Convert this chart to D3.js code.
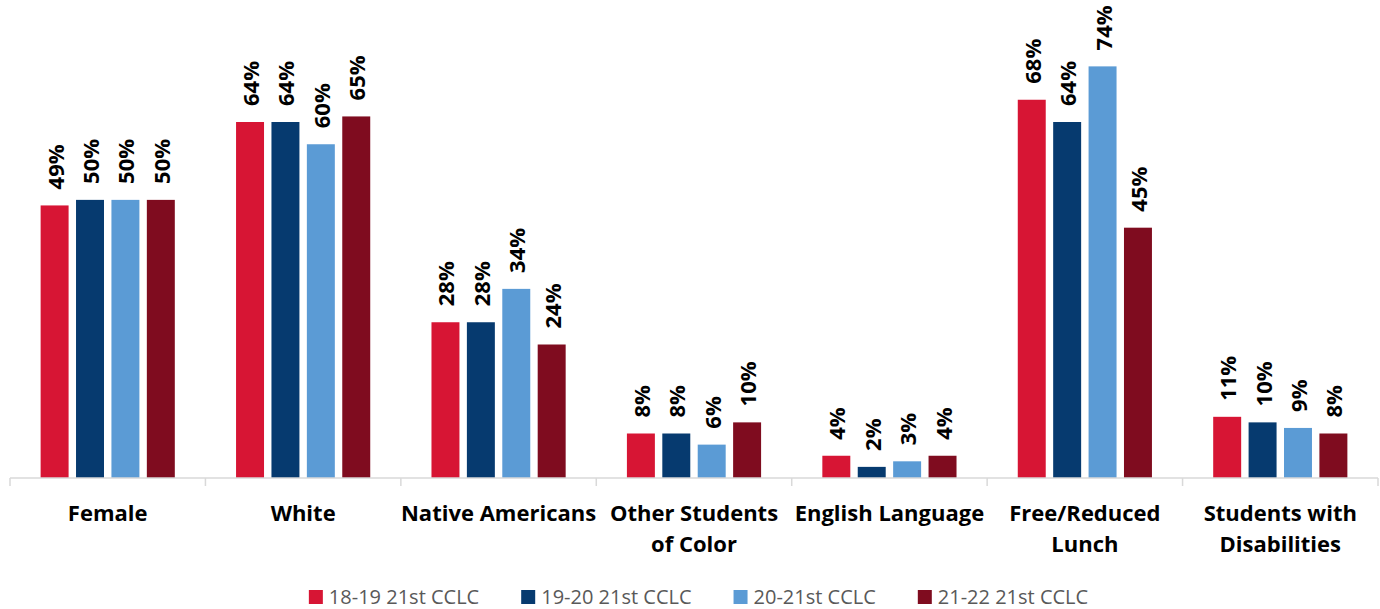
<!DOCTYPE html>
<html>
<head>
<meta charset="utf-8">
<script src="https://cdn.jsdelivr.net/npm/d3@7/dist/d3.min.js"></script>
<style>
  html, body { margin: 0; padding: 0; background: #ffffff; }
  svg { display: block; }
</style>
</head>
<body>
<svg id="chart" width="1380" height="609"></svg>
<script>
// Student demographics by program year
const categories = [
  ["Female"],
  ["White"],
  ["Native Americans"],
  ["Other Students", "of Color"],
  ["English Language"],
  ["Free/Reduced", "Lunch"],
  ["Students with", "Disabilities"]
];
const seriesNames = ["18-19 21st CCLC", "19-20 21st CCLC", "20-21st CCLC", "21-22 21st CCLC"];
const seriesColors = ["#d71534", "#063a6f", "#5b9bd5", "#7f0c1f"];

const values1819 = [0.49, 0.64, 0.28, 0.08, 0.04, 0.68, 0.11];
const values1920 = [0.50, 0.64, 0.28, 0.08, 0.02, 0.64, 0.10];
const values2021 = [0.50, 0.60, 0.34, 0.06, 0.03, 0.74, 0.09];
const values2122 = [0.50, 0.65, 0.24, 0.10, 0.04, 0.45, 0.08];
const seriesValues = [values1819, values1920, values2021, values2122];

const svg = d3.select("#chart");
const baseline = 478;

const catKeys = categories.map(c => c.join(" "));
const x0 = d3.scaleBand().domain(catKeys).range([10, 1378]).paddingInner(0).paddingOuter(0);
const x1 = d3.scaleBand().domain(seriesNames).range([0, x0.bandwidth()])
  .paddingInner(0.21).paddingOuter(0.865);
const y = d3.scaleLinear().domain([0, 0.8]).range([baseline, 33]);

const rows = catKeys.map((k, i) => ({
  key: k,
  lines: categories[i],
  vals: seriesNames.map((s, j) => ({ series: s, idx: j, value: seriesValues[j][i] }))
}));

// Bars
const groups = svg.append("g").selectAll("g").data(rows).join("g")
  .attr("transform", d => `translate(${x0(d.key)},0)`);

groups.selectAll("rect").data(d => d.vals).join("rect")
  .attr("x", d => x1(d.series))
  .attr("y", d => y(d.value))
  .attr("width", x1.bandwidth())
  .attr("height", d => baseline - y(d.value))
  .attr("fill", d => seriesColors[d.idx]);

// Rotated value labels
const fmt = d3.format(".0%");
groups.selectAll("text.val").data(d => d.vals).join("text")
  .attr("class", "val")
  .attr("transform", d => `translate(${x1(d.series) + x1.bandwidth() / 2},${y(d.value) - 16}) rotate(-90)`)
  .attr("text-anchor", "start")
  .attr("dominant-baseline", "central")
  .attr("font-family", "'Open Sans', sans-serif")
  .attr("font-weight", "700")
  .attr("font-size", "22px")
  .attr("fill", "#000")
  .text(d => fmt(d.value));

// Category axis
const axis = d3.axisBottom(x0).tickSize(0).tickFormat("");
const axisG = svg.append("g").attr("transform", `translate(0,${baseline})`).call(axis);
axisG.select(".domain").attr("stroke", "#d9d9d9").attr("stroke-width", 1.5)
  .attr("d", `M10,0H1378`);
axisG.selectAll(".tick").remove();

const boundaries = catKeys.map(k => x0(k)).concat([x0.range()[1]]);
axisG.selectAll("line.sep").data(boundaries).join("line")
  .attr("class", "sep")
  .attr("x1", d => d).attr("x2", d => d)
  .attr("y1", 0).attr("y2", 8)
  .attr("stroke", "#d9d9d9").attr("stroke-width", 1.5);

// Category labels
const catLabels = svg.append("g").selectAll("text").data(rows).join("text")
  .attr("x", d => x0(d.key) + x0.bandwidth() / 2)
  .attr("y", 521)
  .attr("text-anchor", "middle")
  .attr("font-family", "'Open Sans', sans-serif")
  .attr("font-weight", "700")
  .attr("font-size", "22px")
  .attr("fill", "#000");
catLabels.selectAll("tspan").data(d => d.lines).join("tspan")
  .attr("x", function () { return d3.select(this.parentNode).attr("x"); })
  .attr("dy", (d, i) => i === 0 ? 0 : 31)
  .text(d => d);

// Legend
const legend = svg.append("g");
const items = legend.selectAll("g").data(seriesNames).join("g");
items.append("rect")
  .attr("width", 14).attr("height", 14)
  .attr("y", 590)
  .attr("fill", (d, i) => seriesColors[i]);
items.append("text")
  .attr("x", 20)
  .attr("y", 604)
  .attr("font-family", "'Open Sans', sans-serif")
  .attr("font-size", "20px")
  .attr("fill", "#595959")
  .text(d => d);

const gap = 42;
let cursor = 0;
const offsets = [];
items.each(function () {
  const w = d3.select(this).select("text").node().getComputedTextLength();
  offsets.push(cursor);
  cursor += 20 + w + gap;
});
const total = cursor - gap;
const startX = 698.5 - total / 2;
items.attr("transform", (d, i) => `translate(${startX + offsets[i]},0)`);
</script>
</body>
</html>
